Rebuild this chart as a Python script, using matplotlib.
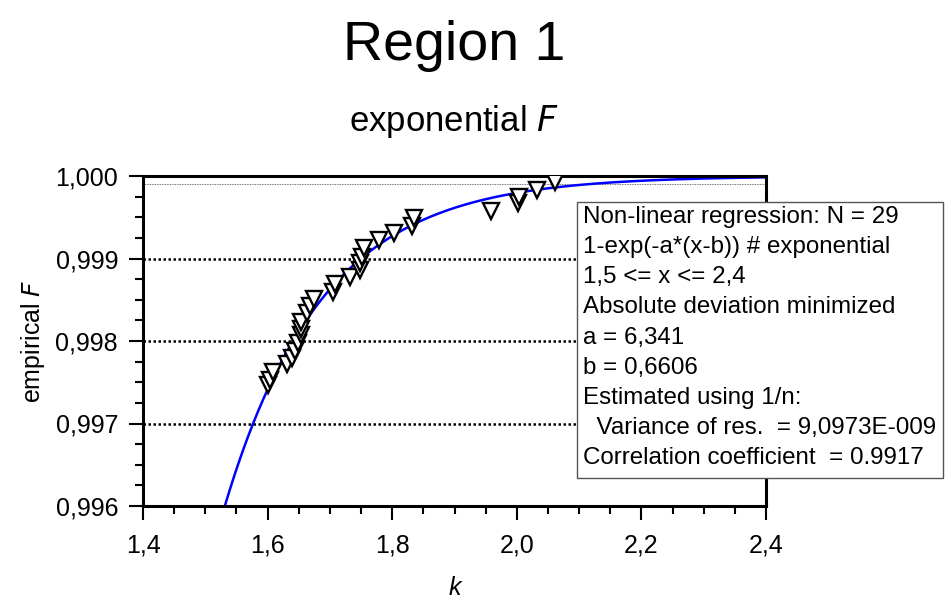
import numpy as np
import matplotlib
matplotlib.use("Agg")
import matplotlib.pyplot as plt
from matplotlib.patches import Rectangle
from matplotlib.ticker import MultipleLocator, FuncFormatter

plt.rcParams['font.family'] = ['Liberation Sans', 'DejaVu Sans']

# data
k_vals = [1.601, 1.604, 1.609, 1.631, 1.639, 1.644, 1.649, 1.654, 1.654, 1.653,
          1.663, 1.668, 1.674, 1.705, 1.708, 1.732, 1.748, 1.749, 1.751, 1.754,
          1.779, 1.803, 1.832, 1.835, 1.958, 2.002, 2.003, 2.033, 2.062]
F_vals = [0.99747, 0.99753, 0.99762, 0.99772, 0.99780, 0.99788, 0.99797, 0.99807, 0.99815, 0.99823,
          0.99834, 0.99842, 0.99851, 0.99860, 0.99869, 0.99877, 0.99886, 0.99894, 0.99902, 0.99913,
          0.99922, 0.99931, 0.99939, 0.99949, 0.99957, 0.99967, 0.99975, 0.99983, 0.99993]

# fit parameters as printed in the box
a = 6.341
b = 0.6606
fit_lo, fit_hi = 1.5, 2.4

box_lines = [
    "Non-linear regression: N = 29",
    "1-exp(-a*(x-b)) # exponential",
    "1,5 <= x <= 2,4",
    "Absolute deviation minimized",
    "a = 6,341",
    "b = 0,6606",
    "Estimated using 1/n:",
    "  Variance of res.  = 9,0973E-009",
    "Correlation coefficient  = 0.9917",
]

W, H = 947, 603
fig = plt.figure(figsize=(W/100, H/100), dpi=100)
ax = fig.add_axes([143/W, 97/H, 623/W, 330/H])

# grid lines
for gy in [0.997, 0.998, 0.999]:
    ax.axhline(gy, color='black', linestyle=(0, (1, 1)), linewidth=1.8, zorder=1)
ax.axhline(0.9999, color='#444444', linestyle=(0, (1, 1)), linewidth=0.6, zorder=1)

# fitted curve
xf = np.linspace(fit_lo, fit_hi, 400)
yf = 1 - np.exp(-a * (xf - b))
ax.plot(xf, yf, color='#0000ff', linewidth=1.8, zorder=2)

# data points
ax.plot(k_vals, F_vals, linestyle='none', marker='v', markersize=11.5,
        markerfacecolor='white', markeredgecolor='black', markeredgewidth=1.7, zorder=3)

ax.set_xlim(1.4, 2.4)
ax.set_ylim(0.996, 1.000)

ax.xaxis.set_major_locator(MultipleLocator(0.2))
ax.xaxis.set_minor_locator(MultipleLocator(0.05))
ax.yaxis.set_major_locator(MultipleLocator(0.001))
ax.yaxis.set_minor_locator(MultipleLocator(0.00025))
ax.xaxis.set_major_formatter(FuncFormatter(lambda v, p: ('%.1f' % v).replace('.', ',')))
ax.yaxis.set_major_formatter(FuncFormatter(lambda v, p: ('%.3f' % v).replace('.', ',')))

ax.tick_params(axis='both', which='major', labelsize=18, width=1.5, length=10, direction='out')
ax.tick_params(axis='both', which='minor', width=1.5, length=6, direction='out')
ax.tick_params(axis='x', which='major', pad=10)
ax.tick_params(axis='y', which='major', pad=8)

for s in ax.spines.values():
    s.set_linewidth(2.2)

ax.set_xlabel('k', fontsize=18, fontstyle='italic', labelpad=13)
ax.set_ylabel('empirical $\\mathit{F}$', fontsize=18, labelpad=6)

fig.text(454/W, 1 - 60/H, 'Region 1', fontsize=40, ha='center', va='baseline')
fig.text(454/W, 1 - 131/H, 'exponential $\\mathit{F}$', fontsize=25, ha='center', va='baseline')

# statistics box, drawn over the right spine
box = Rectangle((577/W, 1 - 478/H), 366/W, 276/H, transform=fig.transFigure,
                facecolor='white', edgecolor='#555555', linewidth=1, zorder=3)
fig.add_artist(box)
fig.text(583/W, 1 - 206/H, "\n".join(box_lines), fontsize=17.4, ha='left', va='top',
         linespacing=1.48, zorder=4)

fig.savefig('out.png', dpi=100)
